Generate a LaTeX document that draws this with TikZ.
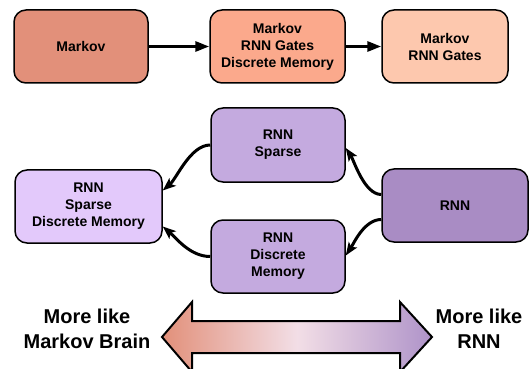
\documentclass[tikz,border=0pt]{standalone}
\usepackage{fontspec}
\setmainfont{Liberation Sans}
\usetikzlibrary{arrows.meta,shadings}

\definecolor{mkA}{HTML}{E2907A}
\definecolor{mkB}{HTML}{FBA98C}
\definecolor{mkC}{HTML}{FDC8AE}
\definecolor{rnA}{HTML}{A98CC4}
\definecolor{rnB}{HTML}{C4AADF}
\definecolor{rnC}{HTML}{E3C9FB}
\definecolor{midtone}{HTML}{F2DEE6}
\definecolor{rnEnd}{HTML}{AF93C9}

\tikzset{
  model/.style={draw=black, line width=1.5pt, rounded corners=12pt,
    inner sep=0pt, align=center, font=\fontsize{14}{17}\selectfont\bfseries},
  flow/.style={line width=3pt, -{Triangle[length=14pt,width=10pt]}},
  curvearrow/.style={line width=3pt, -{Stealth[length=13pt,width=10pt,inset=3pt]}},
  endlabel/.style={align=center, font=\fontsize{20}{25.5}\selectfont\bfseries}
}

\begin{document}
\begin{tikzpicture}[x=1pt,y=-1pt]
\useasboundingbox (0,0) rectangle (531,369);

% top row: Markov variants
\node[model, fill=mkA, minimum width=134pt, minimum height=73pt] (markov) at (81,46.5) {Markov};
\node[model, fill=mkB, minimum width=135pt, minimum height=73pt] (gatesmem) at (277.5,46.5) {Markov\\RNN Gates\\Discrete Memory};
\node[model, fill=mkC, minimum width=126pt, minimum height=73pt] (gates) at (445,46.5) {Markov\\RNN Gates};

\draw[flow] (markov.east) -- (gatesmem.west);
\draw[flow] (gatesmem.east) -- (gates.west);

% middle: RNN variants
\node[model, fill=rnC, minimum width=147pt, minimum height=73pt] (sparsemem) at (88.5,206.5) {RNN\\Sparse\\Discrete Memory};
\node[model, fill=rnB, minimum width=134pt, minimum height=74pt] (sparse) at (278,145) {RNN\\Sparse};
\node[model, fill=rnB, minimum width=134pt, minimum height=73pt] (discrete) at (278,256.5) {RNN\\Discrete\\Memory};
\node[model, fill=rnA, minimum width=146pt, minimum height=73pt] (rnn) at (455,205.5) {RNN};

\draw[curvearrow] ([yshift=11pt]rnn.west) .. controls +(-17,0) and +(8,12) .. ([yshift=-3pt]sparse.east);
\draw[curvearrow] ([yshift=-14pt]rnn.west) .. controls +(-17,0) and +(8,-12) .. ([yshift=1pt]discrete.east);
\draw[curvearrow] (sparse.west) .. controls +(-20,0) and +(14,-12) .. ([yshift=16pt]sparsemem.east);
\draw[curvearrow] (discrete.west) .. controls +(-20,0) and +(14,12) .. ([yshift=-20pt]sparsemem.east);

% bottom: double-headed scale arrow
\coordinate (tipL) at (162,337);
\coordinate (tipR) at (432,337);
\shade[left color=mkA, right color=rnEnd, middle color=midtone]
  (tipL) -- (192,302) -- (192,321) -- (400,321) -- (400,302) -- (tipR)
  -- (400,372) -- (400,353) -- (192,353) -- (192,372) -- cycle;
\draw[line width=2pt, line join=miter]
  (tipL) -- (192,302) -- (192,321) -- (400,321) -- (400,302) -- (tipR)
  -- (400,372) -- (400,353) -- (192,353) -- (192,372) -- cycle;

\node[endlabel] (markovend) at (87,329) {More like\\Markov Brain};
\node[endlabel] (rnnend) at (479,329) {More like\\RNN};
\end{tikzpicture}
\end{document}
